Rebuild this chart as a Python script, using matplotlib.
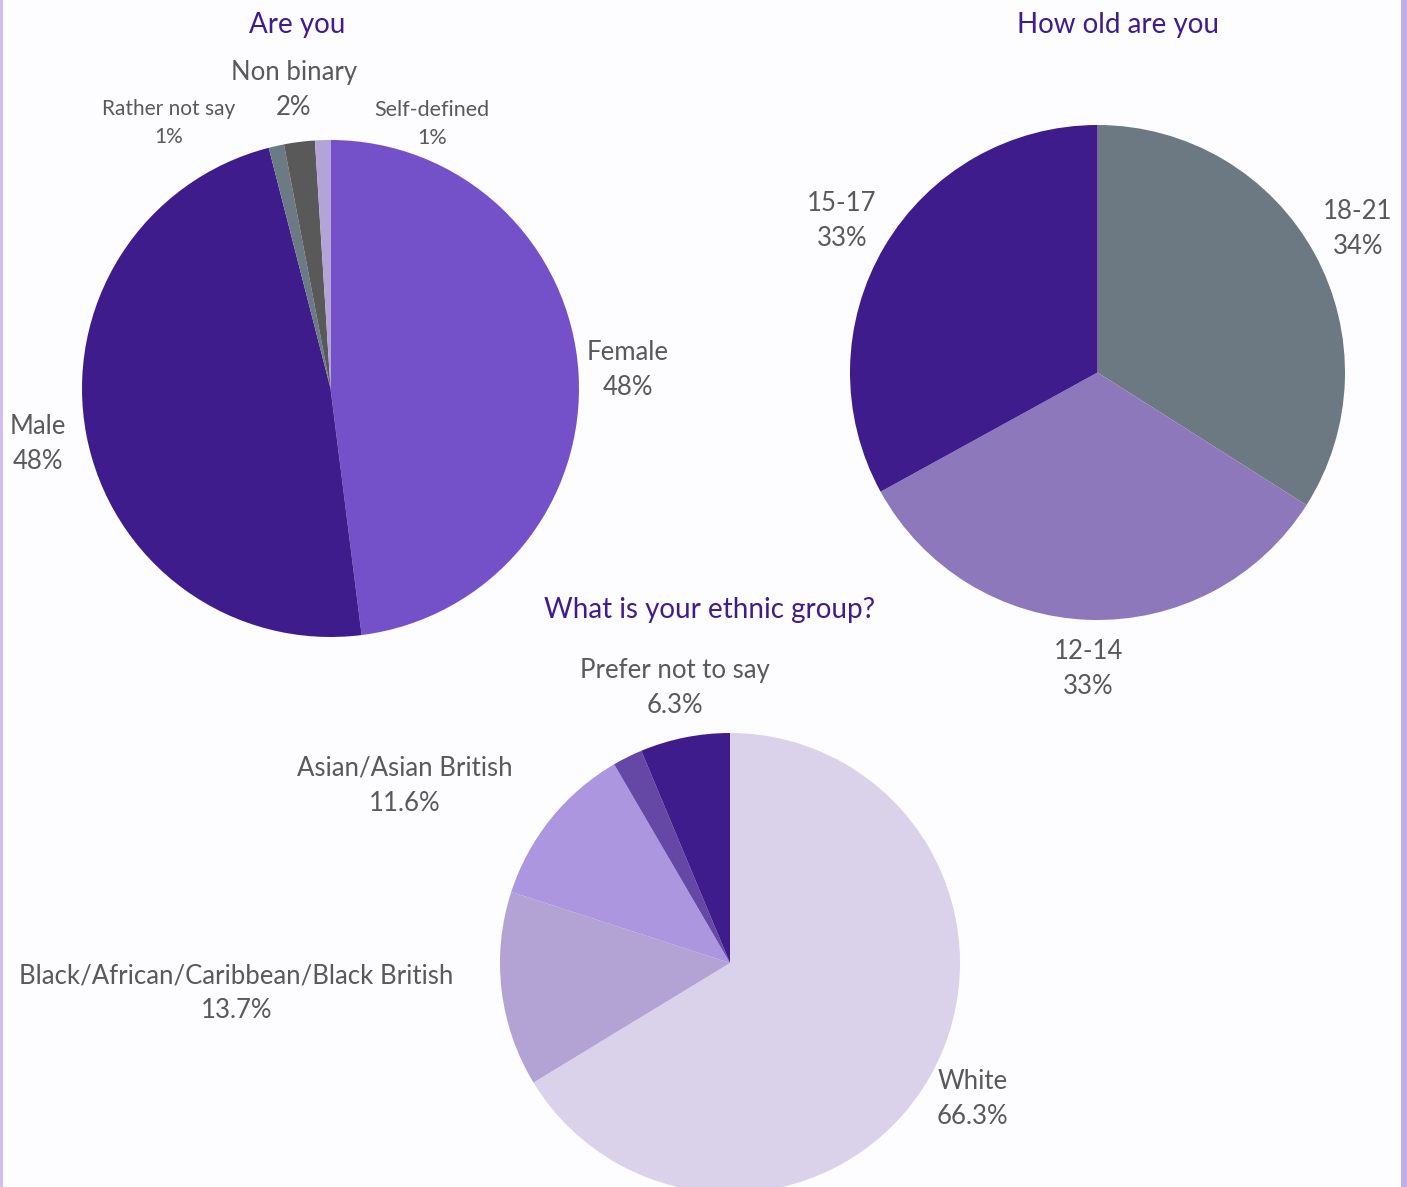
import matplotlib.pyplot as plt
import numpy as np

plt.rcParams['font.family'] = ['Lato', 'DejaVu Sans']

# gender
gender_labels = ['Female', 'Male', 'Rather not say', 'Non binary', 'Self-defined']
gender_pct = [48, 48, 1, 2, 1]
gender_colors = ['#7451c9', '#3f1c8c', '#6c7a86', '#595959', '#b4a3d7']

# age
age_labels = ['18-21', '12-14', '15-17']
age_pct = [34, 33, 33]
age_colors = ['#6c7982', '#8d78bc', '#3f1c8c']

# ethnic group (the 2.1% slice has no label on the chart)
ethnic_labels = ['White', 'Black/African/Caribbean/Black British',
                 'Asian/Asian British', '', 'Prefer not to say']
ethnic_pct = [66.3, 13.7, 11.6, 2.1, 6.3]
ethnic_text = ['66.3%', '13.7%', '11.6%', '', '6.3%']
ethnic_colors = ['#dad2ea', '#b3a2d4', '#ab96df', '#6548a6', '#3f1c8c']

W, H = 1407, 1187
fig = plt.figure(figsize=(W / 100, H / 100), dpi=100)
fig.patch.set_facecolor('#fdfcfe')
ax = fig.add_axes([0, 0, 1, 1])

title_color = '#3f1c8c'
text_color = '#595959'
label_size = 18.5
title_size = 20


def py(y):
    # pixel rows measured from the top
    return H - y


def draw_pie(values, colors, cx, cy, r):
    ax.pie(values, colors=colors, startangle=90, counterclock=False,
           center=(cx, py(cy)), radius=r,
           wedgeprops=dict(linewidth=0))
    # mid angle of each wedge, clockwise from 12 o'clock
    cum = np.cumsum(values) / np.sum(values) * 360
    return cum - np.array(values) / np.sum(values) * 180


def put_label(cx, cy, r, ang, dist, text, size=label_size):
    a = np.radians(ang)
    x = cx + dist * r * np.sin(a)
    y = cy - dist * r * np.cos(a)
    ax.text(x, py(y), text, ha='center', va='center', fontsize=size,
            color=text_color, linespacing=1.5)


# --- Are you ---
gcx, gcy, gr = 330.5, 388.5, 248.5
mids = draw_pie(gender_pct, gender_colors, gcx, gcy, gr)
g_place = [(None, 1.2), (None, 1.2), (328.7, 1.25), (353.0, 1.21), (21.0, 1.14)]
g_size = [label_size, label_size, 15, label_size, 15.5]
for lab, p, m, (ang, d), s in zip(gender_labels, gender_pct, mids, g_place, g_size):
    put_label(gcx, gcy, gr, m if ang is None else ang, d, f'{lab}\n{p}%', s)
ax.text(297, py(25), 'Are you', ha='center', va='center',
        fontsize=title_size, color=title_color)

# --- How old are you ---
acx, acy, ar = 1097.5, 372.5, 247.5
mids = draw_pie(age_pct, age_colors, acx, acy, ar)
for lab, p, m in zip(age_labels, age_pct, mids):
    put_label(acx, acy, ar, m, 1.2, f'{lab}\n{p}%')
ax.text(1118, py(25), 'How old are you', ha='center', va='center',
        fontsize=title_size, color=title_color)

# --- What is your ethnic group? ---
ecx, ecy, er = 730, 963, 230
mids = draw_pie(ethnic_pct, ethnic_colors, ecx, ecy, er)
e_place = [(None, 1.21), (266.5, 2.15), (298.6, 1.61), None, (None, 1.22)]
for lab, t, m, pl in zip(ethnic_labels, ethnic_text, mids, e_place):
    if pl is None:
        continue
    ang, d = pl
    put_label(ecx, ecy, er, m if ang is None else ang, d, f'{lab}\n{t}')
ax.text(710, py(610), 'What is your ethnic group?', ha='center',
        va='center', fontsize=title_size, color=title_color)

# page borders
ax.axvspan(0, 2.5, color='#cdbff0', lw=0)
ax.axvspan(1401, W, color='#bfaee8', lw=0)

ax.set_xlim(0, W)
ax.set_ylim(0, H)
ax.set_aspect('auto')
ax.axis('off')

fig.savefig('out.png', dpi=100, facecolor=fig.get_facecolor())
